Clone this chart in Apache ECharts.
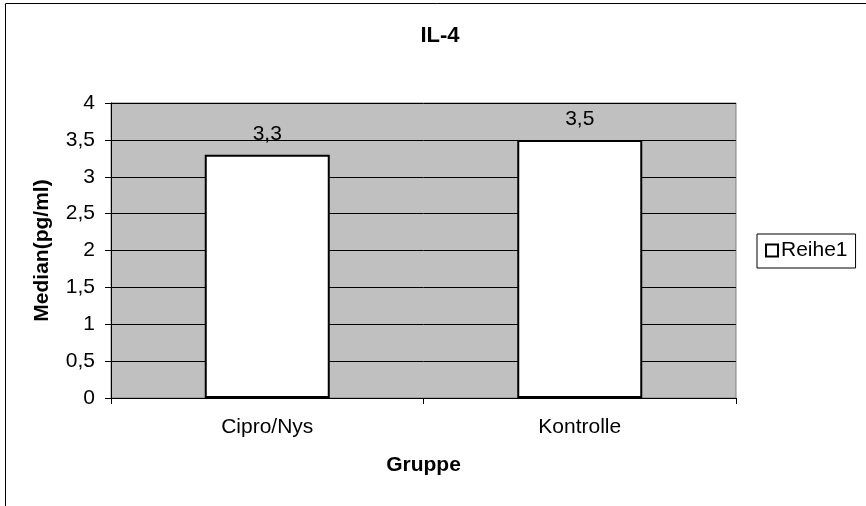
<!DOCTYPE html>
<html>
<head>
<meta charset="utf-8">
<script src="https://cdn.jsdelivr.net/npm/echarts@6/dist/echarts.min.js"></script>
<style>
html,body{margin:0;padding:0;background:#fff;}
#chart{width:866px;height:506px;}
</style>
</head>
<body>
<div id="chart"></div>
<script>
// IL-4 medians per group
const categories = ['Cipro/Nys', 'Kontrolle'];
const medians = [3.3, 3.5];
const yTicks = [0, 0.5, 1, 1.5, 2, 2.5, 3, 3.5, 4];

const fmt = v => String(v).replace('.', ',');
const font = '"Liberation Sans", Arial, sans-serif';
const fs = 21;

const chart = echarts.init(document.getElementById('chart'), null, { renderer: 'canvas' });
chart.setOption({
  animation: false,
  backgroundColor: '#ffffff',
  textStyle: { fontFamily: font },
  title: {
    text: 'IL-4', left: 435, textAlign: 'center', top: 20,
    textStyle: { fontFamily: font, fontSize: 22, fontWeight: 'bold', color: '#000' }
  },
  grid: { left: 111, top: 103, width: 625, height: 295, show: true, backgroundColor: '#c0c0c0', borderColor: '#808080', borderWidth: 1 },
  legend: {
    orient: 'vertical', left: 757, top: 234,
    data: ['Reihe1'],
    itemWidth: 12, itemHeight: 12, itemGap: 4,
    padding: [6, 8, 7, 8],
    borderColor: '#000', borderWidth: 1, borderRadius: 0,
    icon: 'rect',
    textStyle: { fontFamily: font, fontSize: fs, color: '#000', padding: [0, 0, 0, -2] }
  },
  xAxis: {
    type: 'category', data: categories,
    name: 'Gruppe', nameLocation: 'middle', nameGap: 57,
    nameTextStyle: { fontFamily: font, fontSize: fs, fontWeight: 'bold', color: '#000' },
    axisLine: { lineStyle: { color: '#000', width: 1 } },
    axisTick: { show: true, alignWithLabel: false, length: 6, lineStyle: { color: '#000' } },
    axisLabel: { fontFamily: font, fontSize: fs, color: '#000', margin: 19 }
  },
  yAxis: {
    type: 'value', min: yTicks[0], max: yTicks[yTicks.length - 1], interval: 0.5,
    name: 'Median(pg/ml)', nameLocation: 'middle', nameGap: 58,
    nameTextStyle: { fontFamily: font, fontSize: fs, fontWeight: 'bold', color: '#000' },
    axisLine: { show: true, lineStyle: { color: '#000', width: 1 } },
    axisTick: { show: true, length: 6, lineStyle: { color: '#000' } },
    axisLabel: { fontFamily: font, fontSize: fs, color: '#000', margin: 16, formatter: v => fmt(v) },
    splitLine: { show: true, lineStyle: { color: '#000', width: 1 } }
  },
  series: [{
    name: 'Reihe1', type: 'bar', data: medians, barWidth: '40%',
    itemStyle: { color: '#ffffff', borderColor: '#000', borderWidth: 2 },
    label: {
      show: true, position: 'top', distance: 10,
      fontFamily: font, fontSize: fs, color: '#000',
      formatter: p => fmt(p.value)
    }
  }],
  graphic: [{
    type: 'rect', left: 3, top: 1, silent: true,
    shape: { width: 880, height: 520 },
    style: { fill: 'none', stroke: '#000', lineWidth: 1 }
  }]
});
</script>
</body>
</html>
